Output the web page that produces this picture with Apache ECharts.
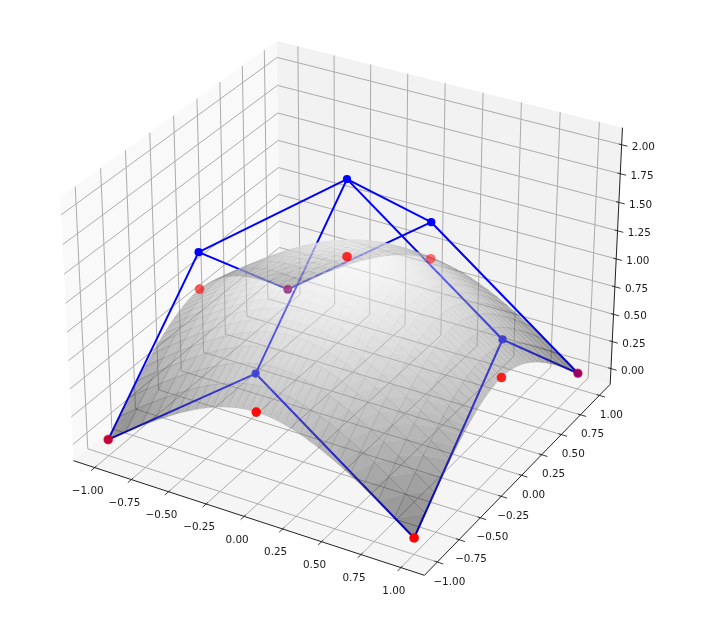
<!DOCTYPE html>
<html><head><meta charset="utf-8">
<script src="https://cdn.jsdelivr.net/npm/echarts@6/dist/echarts.min.js"></script>
<style>html,body{margin:0;padding:0;background:#fff}#main{width:711px;height:623px;filter:blur(0.65px)}</style>
</head><body><div id="main"></div>
<script>
// ---- data ----
const axisTicks = [-1,-0.75,-0.5,-0.25,0,0.25,0.5,0.75,1];
const axisTickLabels = ['\u22121.00','\u22120.75','\u22120.50','\u22120.25','0.00','0.25','0.50','0.75','1.00'];
const zTicks = [0,0.25,0.5,0.75,1,1.25,1.5,1.75,2];
const zTickLabels = ['0.00','0.25','0.50','0.75','1.00','1.25','1.50','1.75','2.00'];
const controlCoords = [-1,0,1];
const blueZ = [[0,1,0],[1,2,1],[0,1,0]];
const redZ = [[0,0.667,0],[0.667,1.334,0.667],[0,0.667,0]];
// surface sample positions along one side (the other half is its mirror image)
const surfaceCoords = [-1,-0.877,-0.771,-0.678,-0.596,-0.522,-0.455,-0.393,-0.335,-0.282,-0.231,-0.182,-0.135,-0.089,-0.045,0];
// surface heights, one quadrant (the surface is symmetric in x and y)
const surfaceHeights = [
[0,.121,.221,.305,.375,.435,.485,.527,.562,.592,.615,.634,.649,.659,.665,.667],
[.121,.242,.342,.426,.496,.556,.606,.648,.683,.713,.736,.755,.770,.780,.786,.788],
[.221,.342,.442,.526,.596,.656,.706,.748,.783,.813,.836,.855,.870,.880,.886,.888],
[.305,.426,.526,.610,.680,.740,.790,.832,.867,.897,.920,.939,.954,.964,.970,.972],
[.375,.496,.596,.680,.750,.810,.860,.902,.937,.967,.990,1.009,1.024,1.034,1.040,1.042],
[.435,.556,.656,.740,.810,.870,.920,.962,.997,1.027,1.050,1.069,1.084,1.094,1.100,1.102],
[.485,.606,.706,.790,.860,.920,.970,1.012,1.047,1.077,1.100,1.119,1.134,1.144,1.150,1.152],
[.527,.648,.748,.832,.902,.962,1.012,1.054,1.089,1.119,1.142,1.161,1.176,1.186,1.192,1.194],
[.562,.683,.783,.867,.937,.997,1.047,1.089,1.124,1.154,1.177,1.196,1.211,1.221,1.227,1.229],
[.592,.713,.813,.897,.967,1.027,1.077,1.119,1.154,1.184,1.207,1.226,1.241,1.251,1.257,1.259],
[.615,.736,.836,.920,.990,1.050,1.100,1.142,1.177,1.207,1.230,1.249,1.264,1.274,1.280,1.282],
[.634,.755,.855,.939,1.009,1.069,1.119,1.161,1.196,1.226,1.249,1.268,1.283,1.293,1.299,1.301],
[.649,.770,.870,.954,1.024,1.084,1.134,1.176,1.211,1.241,1.264,1.283,1.298,1.308,1.314,1.316],
[.659,.780,.880,.964,1.034,1.094,1.144,1.186,1.221,1.251,1.274,1.293,1.308,1.318,1.324,1.326],
[.665,.786,.886,.970,1.040,1.100,1.150,1.192,1.227,1.257,1.280,1.299,1.314,1.324,1.330,1.332],
[.667,.788,.888,.972,1.042,1.102,1.152,1.194,1.229,1.259,1.282,1.301,1.316,1.326,1.332,1.334]
];

// ---- 3D view (elev 30, azim -60, perspective) ----
const E = 1.1458, Zlo = -0.1458, Zhi = 2.1458;
const U = [0.866,0.5,0], V = [-0.25,0.433,0.866], W = [0.433,-0.75,0.5];
const XS = 0.5411, ZS = 0.4059, DIST = 10;
function project(x,y,z){
  const d = [x*XS, y*XS, (z-1)*ZS];
  const dot = a => a[0]*d[0]+a[1]*d[1]+a[2]*d[2];
  const den = DIST - dot(W);
  return [dot(U)/den, dot(V)/den, den];
}
const SX = 3241, SY = 3225, CX = 347, CY = 294.8, W_PX = 711, H_PX = 623;

function segs(list){ return list.map(s=>{const a=project(s[0],s[1],s[2]),b=project(s[3],s[4],s[5]);return [a[0],a[1],b[0],b[1]];}); }
function segmentSeries(list,color,width,z){
  return {type:'custom',coordinateSystem:'cartesian2d',silent:true,z:z,clip:false,animation:false,
    encode:{x:[0,2],y:[1,3]},data:segs(list),
    renderItem:(p,api)=>{const a=api.coord([api.value(0),api.value(1)]),b=api.coord([api.value(2),api.value(3)]);
      return {type:'line',shape:{x1:a[0],y1:a[1],x2:b[0],y2:b[1]},style:{stroke:color,lineWidth:width,fill:null}};}};
}
function polySeries(list,color,z){
  return {type:'custom',coordinateSystem:'cartesian2d',silent:true,z:z,clip:false,animation:false,
    encode:{x:[0,2,4,6],y:[1,3,5,7]},
    data:list.map(q=>q.flatMap(c=>project(c[0],c[1],c[2]).slice(0,2))),
    renderItem:(p,api)=>({type:'polygon',shape:{points:[0,2,4,6].map(i=>api.coord([api.value(i),api.value(i+1)]))},style:{fill:color}})};
}
function labelSeries(points,labels,dx,dy){
  return {type:'custom',coordinateSystem:'cartesian2d',silent:true,z:9,clip:false,animation:false,
    encode:{x:0,y:1},data:points.map(c=>project(c[0],c[1],c[2]).slice(0,2)),
    renderItem:(p,api)=>{const a=api.coord([api.value(0),api.value(1)]);
      return {type:'text',style:{text:labels[p.dataIndex],x:a[0]+dx,y:a[1]+dy,align:'center',verticalAlign:'middle',
        font:'10.4px "DejaVu Sans"',fill:'#1a1a1a'}};}};
}

// panes
const panes = [
 polySeries([[[-E,-E,Zlo],[-E,E,Zlo],[-E,E,Zhi],[-E,-E,Zhi]]],'#f9f9f9',1),
 polySeries([[[-E,E,Zlo],[E,E,Zlo],[E,E,Zhi],[-E,E,Zhi]]],'#f2f2f2',1),
 polySeries([[[-E,-E,Zlo],[E,-E,Zlo],[E,E,Zlo],[-E,E,Zlo]]],'#f5f5f5',1)
];
// grid lines and ticks
const gridLines=[], tickLines=[], OUT=0.037, IN=0.018;
axisTicks.forEach(t=>{
  gridLines.push([t,-E,Zlo,t,E,Zlo],[t,E,Zlo,t,E,Zhi],[-E,t,Zlo,E,t,Zlo],[-E,t,Zlo,-E,t,Zhi]);
  tickLines.push([t,-E-OUT,Zlo,t,-E+IN,Zlo],[E+OUT,t,Zlo,E-IN,t,Zlo]);
});
zTicks.forEach(t=>{
  gridLines.push([-E,-E,t,-E,E,t],[-E,E,t,E,E,t]);
  tickLines.push([E+OUT,E,t,E-IN,E,t]);
});
const axisLines=[[-E,-E,Zlo,E,-E,Zlo],[E,-E,Zlo,E,E,Zlo],[E,E,Zlo,E,E,Zhi]];

// control net (blue) lines
const blueLines=[];
controlCoords.forEach((_,i)=>{
  blueLines.push({type:'line',z:3,silent:true,animation:false,symbol:'none',lineStyle:{color:'#0000ff',width:2},
    data:controlCoords.map((x,j)=>project(controlCoords[i],controlCoords[j],blueZ[i][j]).slice(0,2))});
  blueLines.push({type:'line',z:3,silent:true,animation:false,symbol:'none',lineStyle:{color:'#0000ff',width:2},
    data:controlCoords.map((x,j)=>project(controlCoords[j],controlCoords[i],blueZ[j][i]).slice(0,2))});
});
function pointsOf(zs){const o=[];controlCoords.forEach((x,i)=>controlCoords.forEach((y,j)=>o.push(project(x,y,zs[i][j]))));return o;}
const bluePts=pointsOf(blueZ), redPts=pointsOf(redZ);
const dens=redPts.map(p=>p[2]), dMin=Math.min(...dens), dMax=Math.max(...dens);

// surface cells
const N=surfaceCoords.length, M=2*N-1;
const mi=i=>Math.min(i,M-1-i);
const coordAt=i=>i<N?surfaceCoords[i]:-surfaceCoords[M-1-i];
const hAt=(i,j)=>surfaceHeights[mi(i)][mi(j)];
const zMax=1.334, cells=[];
for(let i=0;i<M-1;i++)for(let j=0;j<M-1;j++){
  const c=(a,b)=>[coordAt(a),coordAt(b),hAt(a,b)];
  const Q=[c(i,j),c(i+1,j),c(i+1,j+1),c(i,j+1)];
  const P=Q.map(q=>project(q[0],q[1],q[2]));
  const g1=Math.round(255*(Q[0][2]+Q[1][2]+Q[2][2])/3/zMax);
  const g2=Math.round(255*(Q[0][2]+Q[2][2]+Q[3][2])/3/zMax);
  const dep=(P[0][2]+P[1][2]+P[2][2]+P[3][2])/4;
  cells.push([P[0][0],P[0][1],P[1][0],P[1][1],P[2][0],P[2][1],P[3][0],P[3][1],g1,g2,dep]);
}
cells.sort((a,b)=>b[10]-a[10]);
const SURF_ALPHA=0.43;

const chart=echarts.init(document.getElementById('main'),null,{renderer:'canvas'});
chart.setOption({
  backgroundColor:'#fff',animation:false,
  grid:{left:0,right:0,top:0,bottom:0},
  xAxis:{type:'value',show:false,min:-CX/SX,max:(W_PX-CX)/SX},
  yAxis:{type:'value',show:false,min:-(H_PX-CY)/SY,max:CY/SY},
  series:[
    ...panes,
    segmentSeries(gridLines,'#acacac',1,2),
    ...blueLines,
    {type:'scatter',z:4,silent:true,animation:false,symbol:'circle',symbolSize:8.2,itemStyle:{color:'#0000ff',opacity:1},
      data:bluePts.map(p=>[p[0],p[1]])},
    {type:'custom',coordinateSystem:'cartesian2d',silent:true,z:5,clip:false,animation:false,progressive:0,
      encode:{x:[0,2,4,6],y:[1,3,5,7]},data:cells,
      renderItem:(p,api)=>{
        const pts=[0,2,4,6].map(i=>api.coord([api.value(i),api.value(i+1)]));
        const g1=api.value(8),g2=api.value(9);
        const col=g=>'rgba('+g+','+g+','+g+','+SURF_ALPHA+')';
        return {type:'group',children:[
          {type:'polygon',shape:{points:[pts[0],pts[1],pts[2]]},style:{fill:col(g1)}},
          {type:'polygon',shape:{points:[pts[0],pts[2],pts[3]]},style:{fill:col(g2)}},
          {type:'polygon',shape:{points:pts},style:{fill:null,stroke:col(Math.round((g1+g2)/2)),lineWidth:0.35}}
        ]};}},
    {type:'scatter',z:6,silent:true,animation:false,symbol:'circle',symbolSize:9.6,
      data:redPts.map(p=>({value:[p[0],p[1]],itemStyle:{color:'#ff0000',opacity:0.35+0.65*(dMax-p[2])/(dMax-dMin)}}))},
    segmentSeries(axisLines,'#222222',1,8),
    segmentSeries(tickLines,'#222222',0.9,8),
    labelSeries(axisTicks.map(t=>[t,-E,Zlo]),axisTickLabels,-7,23.5),
    labelSeries(axisTicks.map(t=>[E,t,Zlo]),axisTickLabels,12,20),
    labelSeries(zTicks.map(t=>[E,E,t]),zTickLabels,21.7,2.4)
  ]
});
</script></body></html>
